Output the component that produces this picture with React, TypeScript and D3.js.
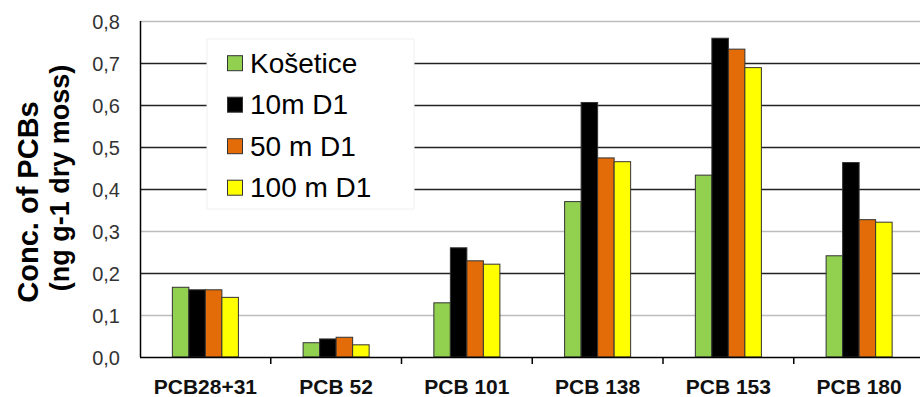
import * as d3 from "d3";
import { useEffect, useRef } from "react";

// categories and series
const categories = ["PCB28+31", "PCB 52", "PCB 101", "PCB 138", "PCB 153", "PCB 180"];
const series = ["Košetice", "10m D1", "50 m D1", "100 m D1"];
const colors = ["#92D050", "#000000", "#E36C09", "#FFFF00"];

// values per series (ng g-1 dry moss)
const kosetice = [0.166, 0.034, 0.129, 0.37, 0.433, 0.241];
const d10 = [0.16, 0.043, 0.26, 0.606, 0.759, 0.463];
const d50 = [0.16, 0.047, 0.229, 0.474, 0.733, 0.327];
const d100 = [0.142, 0.029, 0.221, 0.465, 0.689, 0.321];

const yTicks = [0, 0.1, 0.2, 0.3, 0.4, 0.5, 0.6, 0.7, 0.8];
const lightTicks = [0.1, 0.3, 0.8];

const W = 920;
const H = 397;

const App = () => {
  const ref = useRef<SVGSVGElement>(null);

  useEffect(() => {
    const svg = d3.select(ref.current);
    svg.selectAll("*").remove();

    const values = [kosetice, d10, d50, d100];
    const left = 140;
    const right = 924.5;
    const top = 21;
    const bottom = 357;

    const x = d3.scaleBand().domain(categories).range([left, right]).padding(0);
    const y = d3.scaleLinear().domain([0, 0.8]).range([bottom, top]);
    const groupW = x.bandwidth() * 0.505;
    const xs = d3.scaleBand().domain(series).range([0, groupW]).padding(0);

    const font = "Liberation Sans, Arial, sans-serif";

    // gridlines
    svg.append("g")
      .selectAll("line")
      .data(yTicks.filter((t) => t > 0))
      .enter()
      .append("line")
      .attr("x1", left)
      .attr("x2", W)
      .attr("y1", (d) => Math.round(y(d)) + 0.5)
      .attr("y2", (d) => Math.round(y(d)) + 0.5)
      .attr("stroke", (d) => (lightTicks.includes(d) ? "#bdbdbd" : "#222"))
      .attr("stroke-width", 1.3);

    // bars
    series.forEach((s, i) => {
      svg.append("g")
        .selectAll("rect")
        .data(values[i])
        .enter()
        .append("rect")
        .attr("x", (d, j) => x(categories[j])! + (x.bandwidth() - groupW) / 2 + xs(s)!)
        .attr("y", (d) => y(d))
        .attr("width", xs.bandwidth())
        .attr("height", (d) => bottom - y(d))
        .attr("fill", colors[i])
        .attr("stroke", "#333")
        .attr("stroke-width", 1);
    });

    // legend
    const lg = svg.append("g");
    lg.append("rect")
      .attr("x", 207)
      .attr("y", 39)
      .attr("width", 207)
      .attr("height", 170)
      .attr("fill", "#fff")
      .attr("stroke", "#f0f0f0");
    series.forEach((s, i) => {
      const base = 72.7 + i * 41.5;
      lg.append("rect")
        .attr("x", 227.5)
        .attr("y", base - 17)
        .attr("width", 15)
        .attr("height", 15)
        .attr("fill", colors[i])
        .attr("stroke", "#333")
        .attr("stroke-width", 1);
      lg.append("text")
        .attr("x", 250)
        .attr("y", base)
        .attr("font-family", font)
        .attr("font-size", 28)
        .attr("fill", "#000")
        .text(s);
    });

    // y axis
    svg.append("line")
      .attr("x1", left + 0.5)
      .attr("x2", left + 0.5)
      .attr("y1", top)
      .attr("y2", bottom)
      .attr("stroke", "#000")
      .attr("stroke-width", 1.5);
    svg.append("g")
      .selectAll("text")
      .data(yTicks)
      .enter()
      .append("text")
      .attr("x", 120)
      .attr("y", (d) => y(d) + 8)
      .attr("text-anchor", "end")
      .attr("font-family", font)
      .attr("font-size", 20)
      .attr("fill", "#333")
      .text((d) => d3.format(".1f")(d).replace(".", ","));

    // x axis
    svg.append("line")
      .attr("x1", left)
      .attr("x2", W)
      .attr("y1", bottom + 0.5)
      .attr("y2", bottom + 0.5)
      .attr("stroke", "#000")
      .attr("stroke-width", 1.5);
    svg.append("g")
      .selectAll("line")
      .data(categories.slice(1))
      .enter()
      .append("line")
      .attr("x1", (d) => x(d)!)
      .attr("x2", (d) => x(d)!)
      .attr("y1", bottom)
      .attr("y2", bottom + 7)
      .attr("stroke", "#000")
      .attr("stroke-width", 1.5);
    svg.append("g")
      .selectAll("text")
      .data(categories)
      .enter()
      .append("text")
      .attr("x", (d) => x(d)! + x.bandwidth() / 2)
      .attr("y", 394)
      .attr("text-anchor", "middle")
      .attr("font-family", font)
      .attr("font-size", 21)
      .attr("font-weight", "bold")
      .attr("fill", "#111")
      .text((d) => d);

    // y title
    svg.append("text")
      .attr("transform", "translate(38,202) rotate(-90)")
      .attr("text-anchor", "middle")
      .attr("font-family", font)
      .attr("font-size", 29)
      .attr("font-weight", "bold")
      .text("Conc. of PCBs");
    svg.append("text")
      .attr("transform", "translate(69,178) rotate(-90)")
      .attr("text-anchor", "middle")
      .attr("font-family", font)
      .attr("font-size", 27)
      .attr("font-weight", "bold")
      .text("(ng g-1 dry moss)");
  }, []);

  return (
    <div style={{ position: "absolute", left: 0, top: 0 }}>
      <svg ref={ref} width={W} height={H} style={{ display: "block", background: "#fff" }}></svg>
    </div>
  );
};

export default App;
